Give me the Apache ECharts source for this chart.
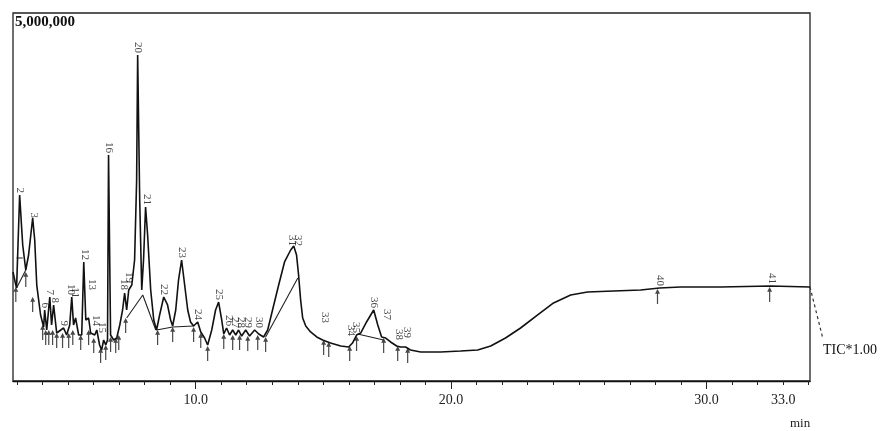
<!DOCTYPE html>
<html>
<head>
<meta charset="utf-8">
<script src="https://cdn.jsdelivr.net/npm/echarts@6/dist/echarts.min.js"></script>
<style>
  html, body { margin: 0; padding: 0; background: #fff; }
  #chart { width: 884px; height: 431px; }
</style>
</head>
<body>
<div id="chart"></div>
<script>
// retention time (min) and intensity of the TIC trace
const traceTime = [
  2.85, 2.96, 2.99, 3.11, 3.23, 3.35, 3.46, 3.62, 3.70, 3.78, 3.93, 4.05, 4.09, 4.17, 4.29, 4.36, 4.44, 4.56,
  4.72, 4.83, 4.95, 5.07, 5.15, 5.22, 5.30, 5.42, 5.54, 5.62, 5.70, 5.81, 5.89, 6.05, 6.13, 6.24, 6.32,
  6.40, 6.48, 6.55, 6.59, 6.67, 6.79, 6.91, 7.03, 7.14, 7.22, 7.30, 7.38, 7.50, 7.61, 7.69, 7.73, 7.81,
  7.89, 7.96, 8.04, 8.12, 8.24, 8.36, 8.47, 8.59, 8.75, 8.90, 9.02, 9.10, 9.22, 9.33, 9.45, 9.57, 9.69,
  9.80, 9.92, 10.08, 10.20, 10.35, 10.47, 10.63, 10.78, 10.90, 11.02, 11.10, 11.21, 11.33, 11.45, 11.57,
  11.68, 11.80, 11.96, 12.11, 12.31, 12.47, 12.66, 12.82, 13.01, 13.25, 13.48, 13.72, 13.84, 13.95,
  14.03, 14.11, 14.19, 14.31, 14.50, 14.74, 14.97, 15.28, 15.68, 15.99, 16.14, 16.30, 16.46, 16.69,
  16.97, 17.13, 17.28, 17.44, 17.63, 17.87, 18.02, 18.22, 18.41, 18.81, 19.59, 20.37, 21.04, 21.55,
  22.13, 22.72, 23.39, 24.01, 24.68, 25.34, 26.36, 27.42, 28.16, 28.98, 30.55, 32.50, 34.05
];
const traceIntensity = [
  1481000, 1304000, 1264000, 2527000, 1848000, 1508000, 1712000, 2215000, 1916000, 1304000, 897000, 734000, 965000, 693000, 1141000, 761000, 1033000, 652000,
  693000, 720000, 625000, 761000, 1141000, 761000, 856000, 625000, 625000, 1617000, 829000, 856000, 652000, 625000, 693000, 489000, 421000,
  557000, 489000, 557000, 3071000, 625000, 557000, 584000, 761000, 965000, 1196000, 965000, 1236000, 1304000, 1644000, 2731000, 4429000, 2459000,
  1236000, 1644000, 2364000, 1984000, 1236000, 829000, 693000, 897000, 1141000, 1033000, 829000, 747000, 965000, 1372000, 1644000, 1304000, 965000,
  802000, 747000, 802000, 666000, 584000, 489000, 693000, 965000, 1073000, 829000, 639000, 720000, 625000, 693000, 625000,
  693000, 611000, 693000, 611000, 693000, 639000, 598000, 693000, 965000, 1304000, 1617000, 1780000, 1834000, 1712000,
  1440000, 1101000, 856000, 747000, 666000, 598000, 557000, 516000, 475000, 462000, 516000, 625000, 652000, 802000,
  965000, 761000, 598000, 584000, 530000, 475000, 462000, 462000, 421000, 394000, 394000, 408000, 421000, 475000,
  584000, 720000, 897000, 1060000, 1168000, 1209000, 1223000, 1236000, 1264000, 1277000, 1277000, 1291000, 1277000
];

// integration baselines drawn under peaks (null = break)
const baseTime = [2.99, 3.35, null, 2.99, 3.23, null, 7.30, 7.93, 8.44, null, 8.47, 9.10, 9.92, null, 12.74, 14.00, null, 16.34, 17.36];
const baseIntensity = [1264000, 1508000, null, 1671000, 1671000, null, 856000, 1168000, 693000, null, 693000, 734000, 747000, null, 598000, 1400000, null, 639000, 557000];

// peak start / end markers
const markTime = [
  2.96, 3.35, 3.62, 4.01, 4.13, 4.25, 4.40, 4.56, 4.79, 5.03, 5.19, 5.50, 5.81, 6.01, 6.28, 6.48, 6.67, 6.87, 6.99, 7.26,
  8.51, 9.10, 9.92, 10.20, 10.47, 11.10, 11.45, 11.72, 12.04, 12.43, 12.74, 15.01, 15.21, 16.03, 16.30, 17.36, 17.91, 18.30,
  28.08, 32.47
];
const markIntensity = [
  1277000, 1481000, 1141000, 761000, 693000, 693000, 693000, 652000, 652000, 652000, 693000, 625000, 693000, 584000, 448000, 489000, 598000, 584000, 625000, 856000,
  693000, 734000, 734000, 652000, 475000, 639000, 625000, 625000, 611000, 625000, 598000, 557000, 530000, 475000, 611000, 584000, 475000, 448000,
  1250000, 1277000
];

// peak numbers
const peakNames = ["2", "3", "6", "7", "8", "9", "10", "11", "12", "13", "14", "15", "16", "18", "19", "20", "21", "22", "23", "24", "25",
  "26", "27", "28", "29", "30", "31", "32", "33", "34", "35", "36", "37", "38", "39", "40", "41"];
const peakTime = [3.11, 3.66, 4.09, 4.29, 4.48, 4.83, 5.11, 5.26, 5.66, 5.93, 6.09, 6.32, 6.59, 7.18, 7.38, 7.73, 8.08, 8.75, 9.45, 10.08, 10.90,
  11.29, 11.53, 11.76, 12.04, 12.47, 13.76, 13.99, 15.05, 16.07, 16.26, 16.97, 17.48, 17.95, 18.26, 28.16, 32.54];
const peakIntensity = [2527000, 2188000, 965000, 1141000, 1033000, 720000, 1141000, 1101000, 1617000, 1209000, 720000, 625000, 3071000, 1209000, 1304000, 4429000, 2364000, 1141000, 1644000, 802000, 1073000,
  720000, 693000, 693000, 693000, 693000, 1807000, 1807000, 761000, 584000, 625000, 965000, 802000, 530000, 557000, 1264000, 1291000];

const tickValues = [];
for (let t = 3; t <= 34; t++) tickValues.push(t);
const majorTicks = [10, 20, 30];
const labelValues = [10, 20, 30, 33];

const X_MIN = 2.85, X_MAX = 34.05;
const serif = "Liberation Serif";

const chart = echarts.init(document.getElementById("chart"));

const pair = (xs, ys) => xs.map((x, i) => (x === null ? [null, null] : [x, ys[i]]));

const option = {
  animation: false,
  grid: { left: 13, right: 74, top: 13, bottom: 50, show: true, borderColor: "#222", borderWidth: 1.3 },
  xAxis: [
    {
      type: "value",
      min: X_MIN,
      max: X_MAX,
      axisLine: { show: true, lineStyle: { color: "#111", width: 1.3 } },
      axisTick: { show: true, customValues: tickValues, length: 4, lineStyle: { color: "#222" } },
      axisLabel: {
        customValues: labelValues,
        formatter: (v) => v.toFixed(1),
        fontFamily: serif,
        fontSize: 14,
        color: "#222",
        margin: 12,
      },
      splitLine: { show: false },
    },
    {
      type: "value",
      min: X_MIN,
      max: X_MAX,
      position: "bottom",
      axisLine: { show: false },
      axisTick: { show: true, customValues: majorTicks, length: 8, lineStyle: { color: "#222" } },
      axisLabel: { show: false },
      splitLine: { show: false },
    },
  ],
  yAxis: {
    type: "value",
    min: 0,
    max: 5000000,
    show: false,
    splitLine: { show: false },
  },
  series: [
    {
      name: "TIC",
      type: "line",
      data: pair(traceTime, traceIntensity),
      symbol: "none",
      lineStyle: { color: "#111", width: 1.6 },
      z: 3,
    },
    {
      name: "baseline",
      type: "line",
      data: pair(baseTime, baseIntensity),
      symbol: "none",
      connectNulls: false,
      lineStyle: { color: "#222", width: 1.1 },
      z: 2,
    },
    {
      name: "marks",
      type: "scatter",
      data: pair(markTime, markIntensity),
      symbol: "path://M5,0L10,7L6.2,7L6.2,22L3.8,22L3.8,7L0,7Z",
      symbolSize: [5, 15],
      symbolOffset: [0, "50%"],
      itemStyle: { color: "#1a1a1a" },
      z: 4,
    },
    {
      name: "peaks",
      type: "scatter",
      data: peakTime.map((t, i) => ({ value: [t, peakIntensity[i]], name: peakNames[i] })),
      symbolSize: 0,
      label: {
        show: true,
        formatter: (p) => p.name,
        position: "top",
        distance: 2,
        rotate: -90,
        align: "right",
        verticalAlign: "middle",
        fontFamily: serif,
        fontSize: 11,
        color: "#111",
      },
      labelLayout: { hideOverlap: false },
      z: 5,
    },
  ],
};

chart.setOption(option);

// full-scale annotation, axis unit and the trace tag at the right
const endPt = chart.convertToPixel({ gridIndex: 0 }, [X_MAX, traceIntensity[traceIntensity.length - 1]]);
chart.setOption({
  graphic: [
    {
      type: "text",
      left: 15,
      top: 15,
      style: { text: "5,000,000", font: "bold 15px 'Liberation Serif'", fill: "#111" },
    },
    {
      type: "text",
      left: 790,
      top: 417,
      style: { text: "min", font: "13px 'Liberation Serif'", fill: "#222" },
    },
    {
      type: "line",
      shape: { x1: endPt[0], y1: endPt[1], x2: endPt[0] + 13, y2: endPt[1] + 52 },
      style: { stroke: "#333", lineWidth: 1.2, lineDash: [3, 3] },
    },
    {
      type: "text",
      x: endPt[0] + 13,
      y: endPt[1] + 63,
      style: { text: "TIC*1.00", font: "14px 'Liberation Serif'", fill: "#111", textVerticalAlign: "middle" },
    },
  ],
});
</script>
</body>
</html>
